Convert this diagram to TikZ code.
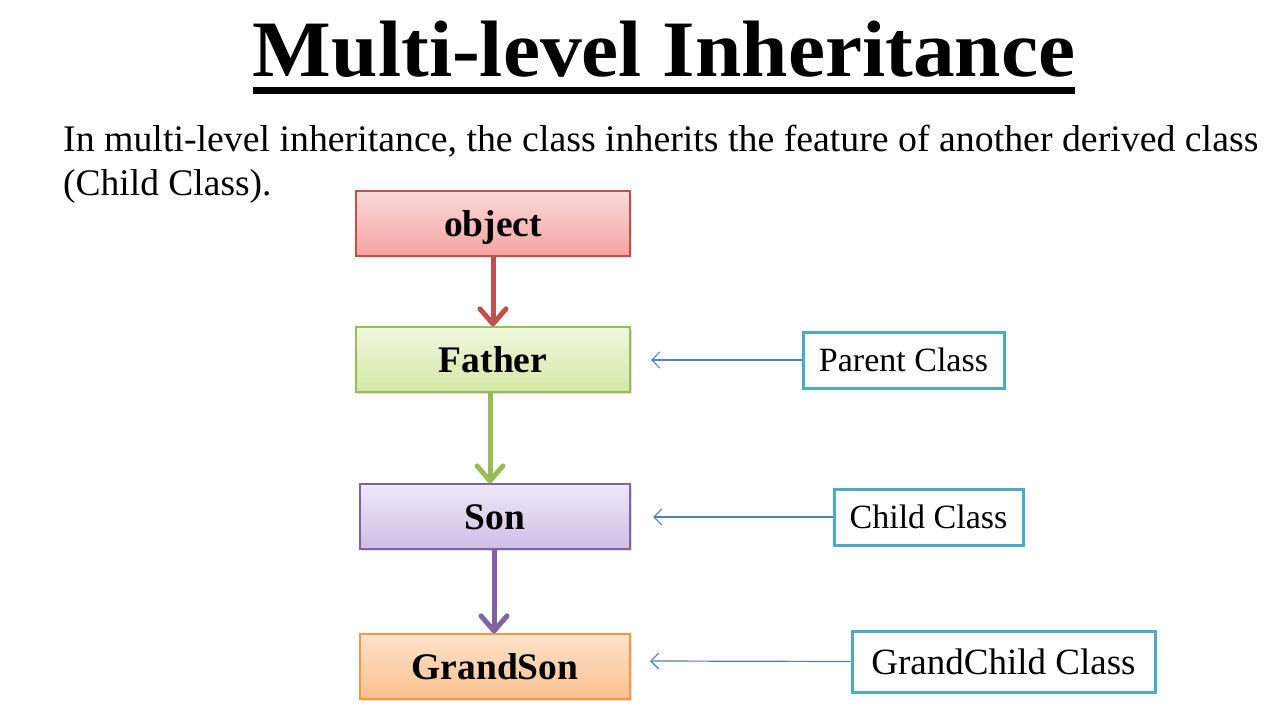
\documentclass[tikz,border=0pt]{standalone}
\usepackage{fontspec}
\setmainfont{Liberation Serif}
\usetikzlibrary{arrows.meta,shadows}
\definecolor{redline}{HTML}{C0504D}
\definecolor{redtop}{HTML}{FADADA}
\definecolor{redbot}{HTML}{F4A3A1}
\definecolor{greenline}{HTML}{9BBB59}
\definecolor{greentop}{HTML}{F0F7DF}
\definecolor{greenbot}{HTML}{D3E8A6}
\definecolor{purpleline}{HTML}{8064A2}
\definecolor{purpletop}{HTML}{EFE8F8}
\definecolor{purplebot}{HTML}{CDBEE6}
\definecolor{orangeline}{HTML}{F79646}
\definecolor{orangetop}{HTML}{FDE3CC}
\definecolor{orangebot}{HTML}{FBC08E}
\definecolor{tealline}{HTML}{4BACC6}
\definecolor{thinblue}{HTML}{4F81BD}
\tikzset{
  classbox/.style={draw=#1line, line width=1.2pt, top color=#1top, bottom color=#1bot,
    minimum height=65pt, inner sep=0pt, text height=26pt, text depth=0pt,
    font=\fontsize{37.5}{42}\selectfont\bfseries,
    drop shadow={shadow xshift=1.5pt, shadow yshift=-2pt, opacity=0.25}},
  rolebox/.style={draw=tealline, line width=3pt, fill=white, inner sep=0pt,
    font=\fontsize{34}{38}\selectfont},
  inherit/.style={draw=#1line, line width=5pt,
    -{Straight Barb[length=15pt, width=26pt, line width=5pt, round]}},
  pointer/.style={draw=thinblue, line width=1.2pt,
    -{Straight Barb[length=8pt, width=16pt, line width=1.2pt]}},
}
\begin{document}
\begin{tikzpicture}[x=1pt, y=-1pt]
  \useasboundingbox (0,0) rectangle (1285,714);
  \fill[white] (0,0) rectangle (1285,714);

  % heading with its underline
  \node[anchor=base, inner sep=0pt] (title) at (664,77)
    {\resizebox{822pt}{\height}{\fontsize{80}{84}\selectfont\bfseries Multi-level Inheritance}};
  \fill (253,87) rectangle (1075,94);

  % explanatory sentence
  \node[anchor=base west, inner sep=0pt] (line1) at (63,152)
    {\resizebox{1195pt}{\height}{\fontsize{37.5}{42}\selectfont In multi-level inheritance, the class inherits the feature of another derived class}};
  \node[anchor=base west, inner sep=0pt] (line2) at (63,196)
    {\fontsize{37.5}{42}\selectfont (Child Class).};

  % class chain
  \node[classbox=red, minimum width=274pt] (object) at (493,223.5) {object};
  \node[classbox=green, minimum width=274pt] (father) at (493,359.5) {Father};
  \node[classbox=purple, minimum width=270pt] (son) at (495,516.5) {Son};
  \node[classbox=orange, minimum width=270pt] (grandson) at (495,666.5) {GrandSon};

  \draw[inherit=red] (object.south) -- (father.north);
  \draw[inherit=green] ([xshift=-3pt]father.south) -- ([xshift=-5pt]son.north);
  \draw[inherit=purple] ([xshift=-1pt]son.south) -- ([xshift=-1pt]grandson.north);

  % role labels
  \node[rolebox, minimum width=201pt, minimum height=56pt] (parent) at (903.5,360) {Parent Class};
  \node[rolebox, minimum width=189pt, minimum height=56pt] (child) at (928.5,517) {Child Class};
  \node[rolebox, minimum width=303pt, minimum height=61pt,
        font=\fontsize{37}{42}\selectfont] (grandchild) at (1003.5,661.5) {GrandChild Class};

  \coordinate (pf) at (651,360);
  \coordinate (cs) at (653,517);
  \coordinate (gg) at (650,661);
  \draw[pointer] (parent.west) -- (pf);
  \draw[pointer] (child.west) -- (cs);
  \draw[pointer] (grandchild.west) -- (gg);
\end{tikzpicture}
\end{document}
